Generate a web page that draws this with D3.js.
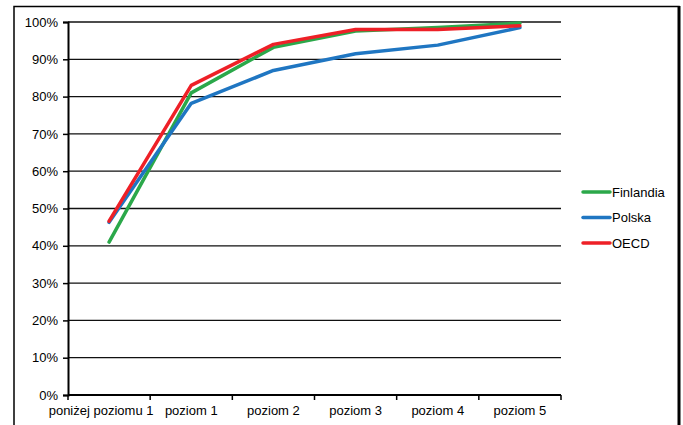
<!DOCTYPE html>
<html>
  <head>
    <meta charset="utf-8">
  </head>
  <style>
    body { margin: 0; background: #fff; }
    text { font-family: "Liberation Sans", Arial, sans-serif; fill: #000; }
  </style>
  <body>
    <div id="chart"></div>
  </body>
  <script src="https://d3js.org/d3.v7.min.js"></script>
  <script>
    // Categories (x axis)
    const CATEGORIES = ['poniżej poziomu 1', 'poziom 1', 'poziom 2', 'poziom 3', 'poziom 4', 'poziom 5'];
    // Series values, percent
    const FINLANDIA = [41, 81, 93.2, 97.6, 98.5, 99.7];
    const POLSKA = [46.3, 78.2, 87, 91.5, 93.8, 98.5];
    const OECD = [46.6, 83, 94, 98, 98, 99];
    const SERIES_NAMES = ['Finlandia', 'Polska', 'OECD'];
    const Y_TICKS = [0, 10, 20, 30, 40, 50, 60, 70, 80, 90, 100];

    const COLORS = ['#2ba84a', '#1f76c2', '#ee2027'];
    const seriesData = [FINLANDIA, POLSKA, OECD];

    const W = 683, H = 425;
    const svg = d3.select('#chart').append('svg')
      .attr('width', W).attr('height', H);

    // outer frame
    svg.append('rect')
      .attr('x', 14).attr('y', 6.5)
      .attr('width', 665).attr('height', 430)
      .attr('fill', 'none').attr('stroke', '#000').attr('stroke-width', 1.5);
    svg.append('line')
      .attr('x1', 679).attr('x2', 679).attr('y1', 6).attr('y2', H)
      .attr('stroke', '#000').attr('stroke-width', 3);

    const plotLeft = 68, plotRight = 561, plotTop = 22, plotBottom = 395;

    const x = d3.scaleBand().domain(CATEGORIES).range([plotLeft, plotRight]);
    const y = d3.scaleLinear().domain([0, 100]).range([plotBottom, plotTop]);

    // gridlines
    svg.append('g')
      .selectAll('line')
      .data(Y_TICKS.filter(d => d > 0))
      .join('line')
      .attr('x1', plotLeft).attr('x2', plotRight)
      .attr('y1', d => y(d)).attr('y2', d => y(d))
      .attr('stroke', '#111').attr('stroke-width', 1.3);

    // y axis
    const yAxis = svg.append('g')
      .attr('transform', 'translate(' + plotLeft + ',0)')
      .call(d3.axisLeft(y).tickValues(Y_TICKS).tickSize(5).tickPadding(5)
        .tickFormat(d => d + '%'));
    yAxis.select('.domain').attr('stroke-width', 2);
    yAxis.selectAll('.tick line').attr('stroke-width', 1.5);
    yAxis.selectAll('text')
      .style('font-size', '13px')
      .style('font-family', '"Liberation Sans", Arial, sans-serif');

    // x axis with ticks at category boundaries
    const xAxisG = svg.append('g')
      .attr('transform', 'translate(0,' + plotBottom + ')');
    xAxisG.append('line')
      .attr('x1', plotLeft).attr('x2', plotRight)
      .attr('stroke', '#000').attr('stroke-width', 2);
    const bounds = CATEGORIES.map(c => x(c)).concat([x(CATEGORIES[CATEGORIES.length - 1]) + x.bandwidth()]);
    xAxisG.selectAll('.xtick')
      .data(bounds)
      .join('line')
      .attr('class', 'xtick')
      .attr('x1', d => d).attr('x2', d => d)
      .attr('y1', 0).attr('y2', 5)
      .attr('stroke', '#000').attr('stroke-width', 1.5);
    // the long first label is nudged left, as in the original
    xAxisG.selectAll('.xlabel')
      .data(CATEGORIES)
      .join('text')
      .attr('class', 'xlabel')
      .attr('x', (d, i) => x(d) + x.bandwidth() / 2 - (i === 0 ? 8 : 0))
      .attr('y', 20)
      .attr('text-anchor', 'middle')
      .style('font-size', '13px')
      .text(d => d);

    // lines
    const line = d3.line()
      .x((d, i) => x(CATEGORIES[i]) + x.bandwidth() / 2)
      .y(d => y(d));

    seriesData.forEach((s, i) => {
      svg.append('path')
        .datum(s)
        .attr('d', line)
        .attr('fill', 'none')
        .attr('stroke', COLORS[i])
        .attr('stroke-width', 3.5)
        .attr('stroke-linejoin', 'round')
        .attr('stroke-linecap', 'round');
    });

    // legend
    const legend = svg.append('g');
    SERIES_NAMES.forEach((name, i) => {
      const ly = 192 + i * 25.5;
      legend.append('line')
        .attr('x1', 583).attr('x2', 610)
        .attr('y1', ly).attr('y2', ly)
        .attr('stroke', COLORS[i]).attr('stroke-width', 3.5)
        .attr('stroke-linecap', 'round');
      legend.append('text')
        .attr('x', 612).attr('y', ly + 4.5)
        .style('font-size', '13px')
        .text(name);
    });
  </script>
</html>
